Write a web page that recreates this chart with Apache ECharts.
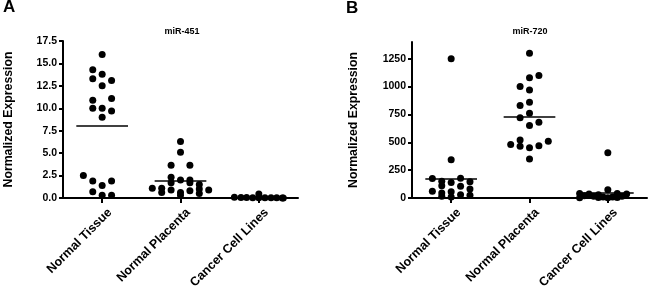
<!DOCTYPE html>
<html>
<head>
<meta charset="utf-8">
<script src="https://cdn.jsdelivr.net/npm/echarts@6/dist/echarts.min.js"></script>
<style>
  html, body { margin: 0; padding: 0; background: #fff; }
  #chart { width: 650px; height: 286px; }
</style>
</head>
<body>
<div id="chart"></div>
<script>
// groups on the x axis
var categories = ['Normal Tissue', 'Normal Placenta', 'Cancer Cell Lines'];

// miR-451 values (panel A)
var a451Tissue = [16.0, 14.3, 13.8, 13.3, 13.1, 12.5, 10.9, 11.1, 10.0, 10.0, 9.7, 9.0, 2.5, 1.9, 1.9, 1.4, 0.7, 0.3, 0.3];
var a451Placenta = [6.3, 5.1, 3.65, 3.65, 2.3, 2.0, 2.0, 1.7, 1.7, 1.5, 1.1, 1.1, 1.0, 0.9, 0.9, 0.8, 0.6, 0.6, 0.5, 0.3];
var a451Cancer = [0.45, 0.08, 0.06, 0.05, 0.04, 0.03, 0.03, 0.02, 0.02, 0.01, 0.01];

// miR-720 values (panel B)
var b720Tissue = [1250, 344, 175, 178, 150, 140, 145, 110, 105, 80, 60, 55, 45, 30, 25, 15, 10];
var b720Placenta = [1300, 1100, 1080, 1000, 970, 860, 830, 760, 720, 680, 650, 520, 480, 465, 450, 470, 510, 350];
var b720Cancer = [405, 75, 40, 35, 30, 40, 35, 20, 15, 10, 10, 15, 5, 5, 2, 3];

// scatter lanes (column offsets, in dot widths) for each value above
var a451TissueLane = [0, -1, 0, -1, 1, 0, -1, 1, -1, 0, 1, 0, -2, -1, 1, 0, -1, 0, 1];
var a451PlacentaLane = [0, 0, -1, 1, -1, 1, 0, -1, 1, 2, -3, -2, 2, -1, 3, 1, 0, -2, 2, 0];
var a451CancerLane = [0, -2.6, -1.9, -1.3, -0.65, 0, 0.65, 1.3, 1.9, 2.5, 2.6];
var b720TissueLane = [0, 0, -2, 1, -1, 0, 2, -1, 1, 2, -2, 0, -1, 1, 2, -1, 0];
var b720PlacentaLane = [0, 1, 0, -1, 0, 0, -1, 0, -1, 1, 0, -1, -2, -1, 0, 1, 2, 0];
var b720CancerLane = [0, 0, -3, -2, -1, 1, 2, -2.5, -1.5, -0.5, 0.5, 1.5, -1, 1, 0, -3];

var yTicksA = [0, 2.5, 5, 7.5, 10, 12.5, 15, 17.5];
var yTicksB = [0, 250, 500, 750, 1000, 1250];

var laneStep = 0.12;
var halfMean = 0.33;
var labelShift = 0.04;
var font = 'Arial, "Liberation Sans", sans-serif';

function mean(arr) {
  var s = 0;
  for (var i = 0; i < arr.length; i++) s += arr[i];
  return s / arr.length;
}

function makeSeries(values, lanes, groupIdx, axisIdx) {
  var pts = [];
  for (var i = 0; i < values.length; i++) {
    pts.push([groupIdx + lanes[i] * laneStep, values[i]]);
  }
  var m = mean(values);
  return {
    type: 'scatter',
    xAxisIndex: axisIdx,
    yAxisIndex: axisIdx,
    data: pts,
    symbol: 'circle',
    symbolSize: 7,
    itemStyle: { color: '#000', opacity: 1 },
    silent: true,
    markLine: {
      silent: true,
      symbol: 'none',
      label: { show: false },
      lineStyle: { color: '#000', width: 1.5, type: 'solid' },
      data: [[{ coord: [groupIdx - halfMean, m] }, { coord: [groupIdx + halfMean, m] }]]
    }
  };
}

function makeXAxis(gridIdx) {
  return {
    type: 'value',
    gridIndex: gridIdx,
    min: -0.5,
    max: 2.5,
    splitLine: { show: false },
    axisLine: { show: true, onZero: false, lineStyle: { color: '#000', width: 2 } },
    axisTick: { show: true, customValues: [0, 1, 2], length: 5, lineStyle: { color: '#000', width: 2 } },
    axisLabel: {
      customValues: [labelShift, 1 + labelShift, 2 + labelShift],
      formatter: function (v) { return categories[Math.round(v)]; },
      rotate: 45,
      margin: 8,
      verticalAlign: 'top',
      color: '#000',
      fontFamily: font,
      fontWeight: 'bold',
      fontSize: 12.5
    }
  };
}

function makeYAxis(gridIdx, max, ticks, fmt, gap) {
  return {
    type: 'value',
    gridIndex: gridIdx,
    min: 0,
    max: max,
    name: 'Normalized Expression',
    nameLocation: 'middle',
    nameGap: gap,
    nameTextStyle: { color: '#000', fontFamily: font, fontWeight: 'bold', fontSize: 12.3 },
    splitLine: { show: false },
    axisLine: { show: true, onZero: false, lineStyle: { color: '#000', width: 2 } },
    axisTick: { show: true, customValues: ticks, length: 4, lineStyle: { color: '#000', width: 2 } },
    axisLabel: {
      customValues: ticks,
      formatter: fmt,
      margin: 6,
      color: '#000',
      fontFamily: font,
      fontWeight: 'bold',
      fontSize: 10.5
    }
  };
}

var chart = echarts.init(document.getElementById('chart'), null, { renderer: 'canvas' });

var option = {
  backgroundColor: '#fff',
  animation: false,
  title: [
    { text: 'A', left: 3, top: -1, padding: 0, textStyle: { fontFamily: font, fontWeight: 'bold', fontSize: 17, color: '#000' } },
    { text: 'B', left: 346, top: 0, padding: 0, textStyle: { fontFamily: font, fontWeight: 'bold', fontSize: 17, color: '#000' } },
    { text: 'miR-451', left: 182, top: 27, textAlign: 'center', padding: 0, textStyle: { fontFamily: font, fontWeight: 'bold', fontSize: 9, color: '#000' } },
    { text: 'miR-720', left: 530, top: 27, textAlign: 'center', padding: 0, textStyle: { fontFamily: font, fontWeight: 'bold', fontSize: 9, color: '#000' } }
  ],
  grid: [
    { left: 63, top: 41, width: 235, height: 157, containLabel: false, outerBoundsMode: 'none' },
    { left: 412, top: 42, width: 235, height: 156, containLabel: false, outerBoundsMode: 'none' }
  ],
  xAxis: [makeXAxis(0), makeXAxis(1)],
  yAxis: [
    makeYAxis(0, 17.5, yTicksA, function (v) { return v.toFixed(1); }, 48),
    makeYAxis(1, 1400, yTicksB, function (v) { return String(v); }, 52)
  ],
  series: [
    makeSeries(a451Tissue, a451TissueLane, 0, 0),
    makeSeries(a451Placenta, a451PlacentaLane, 1, 0),
    makeSeries(a451Cancer, a451CancerLane, 2, 0),
    makeSeries(b720Tissue, b720TissueLane, 0, 1),
    makeSeries(b720Placenta, b720PlacentaLane, 1, 1),
    makeSeries(b720Cancer, b720CancerLane, 2, 1)
  ]
};

chart.setOption(option);
</script>
</body>
</html>
